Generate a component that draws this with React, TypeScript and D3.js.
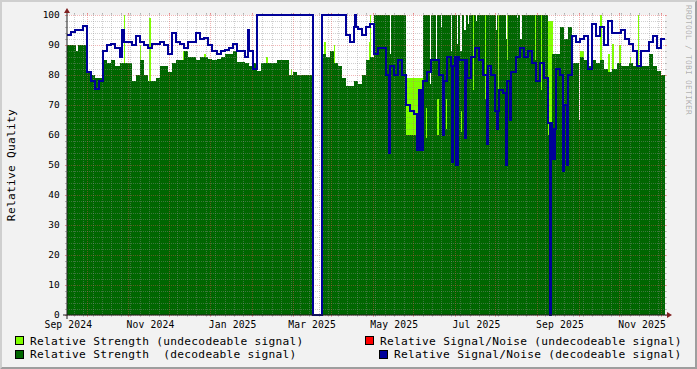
import React from "react";
import * as d3 from "d3";

const WIDTH = 697;
const HEIGHT = 369;
const X0 = 67;
const X1 = 665;
const YB = 315;
const YT = 15;

const seriesStart = new Date(Date.UTC(2024, 7, 31));
const seriesEnd = new Date(Date.UTC(2025, 10, 18));
const STEP_DAYS = 3;

// Relative Strength (decodeable signal), one value per 3 days
const strengthDecodeable = [
  90, 90, 90, 90, 90, 81, 80, 79, 79, 85,
  84, 85, 83, 84, 84, 84, 78, 80, 85, 80,
  78, 78, 79, 83, 83, 81, 84, 85, 85, 88,
  86, 86, 85, 86, 86, 85.5, 85, 85.5, 86, 87,
  87, 88, 84.5, 84.5, 84, 83, 84, 81.5, 84, 84,
  84, 84, 85, 85, 85, 80, 81, 80, 80, 80,
  80, 0, 0, 87, 86, 88, 84, 83, 79, 76.5,
  76.5, 78, 77, 80, 85, 86, 100, 100, 100, 100,
  100, 100, 100, 100, 60, 60, 60, 60, 100, 100,
  100, 100, 100, 100, 100, 100, 100, 100, 100, 100,
  100, 100, 100, 100, 100, 100, 100, 100, 100, 100,
  100, 100, 100, 100, 100, 100, 100, 100, 100, 60,
  87, 87, 96, 92, 96, 84, 84, 86, 85, 83,
  85, 84, 85, 82, 81, 82, 84, 83, 83, 84,
  83, 83, 83, 83, 87, 83, 81.5, 80,
];

// single-day dips of the decodeable strength: [day, value]
const strengthNotches: [number, number][] = [
  [7, 88], [239.5, 87], [269.5, 77], [274, 85.5], [277.5, 96], [285, 88],
  [289.5, 90.5], [292, 88], [295, 95], [297.5, 97], [303.5, 98], [310, 94],
  [318.5, 95], [326, 92], [334, 99], [336.5, 92], [380, 65],
];

// Relative Strength (undecodeable signal): [day, days, value]
const strengthUndecodeable: [number, number, number][] = [
  [42, 1, 100], [54, 1, 90], [61, 1, 99], [86, 1, 88], [102, 1, 87],
  [137, 1, 88], [148, 1, 86], [166, 1, 82], [191, 1, 91], [198, 1, 90],
  [224, 1, 91], [225, 1, 100], [252, 12, 79], [357, 4, 98], [381, 3, 88],
  [396, 1, 100], [402, 1, 87], [405, 1, 90.5], [410, 1, 90], [418, 1, 86],
  [424, 1, 100],
];

// short undecodeable excursions inside the decodeable area: [day, low, high]
const strengthUndecodeableRanges: [number, number, number][] = [
  [266.5, 59, 69], [275, 60, 72], [281.5, 62, 72], [292.5, 61, 68],
  [301.5, 75, 100], [310, 72, 100], [320, 68, 100], [326.5, 85, 100],
  [347.5, 85, 100], [352, 75, 100],
];

// Relative Signal/Noise (decodeable signal), one value per 3 days
const snrDecodeable = [
  93.5, 94.5, 95, 95, 96.5, 81, 78, 75.5, 78, 88,
  90, 90.5, 89, 86, 91, 91, 90, 93, 91, 90,
  89, 90.5, 90.5, 91, 90, 87, 94, 91, 90.5, 89,
  91, 91, 94, 92, 92.5, 90, 88, 87, 88, 88.5,
  89, 90.5, 88, 88, 86, 88, 82, 100, 100, 100,
  100, 100, 100, 100, 100, 100, 100, 100, 100, 100,
  100, 0, 0, 100, 100, 100, 100, 100, 100, 93.5,
  91, 96, 95.5, 93.5, 96, 97, 87, 89, 89, 80,
  83, 80, 85, 80, 70, 68, 67, 75, 78, 81,
  85, 85, 80, 78, 86, 83, 86, 85, 85, 79,
  86, 89, 85, 80, 83, 80, 68, 75, 74, 78,
  81, 86, 89, 86, 88, 84, 78, 84, 79, 64,
  62, 82, 80, 70, 80, 93, 91, 92, 93, 82,
  97, 93, 96, 90, 98, 94, 94, 95, 92, 90.5,
  88, 83, 88, 88, 91, 93, 89, 92,
];

// single-day excursions of the decodeable SNR: [day, value]
const snrSpikes: [number, number][] = [
  [41, 95], [134.5, 95], [213.8, 100], [239, 54], [260, 55], [263, 55],
  [279, 60], [285.5, 51], [289, 50], [295.5, 59], [311.5, 57], [319, 62],
  [326, 50], [329, 65], [358.5, 0], [361, 52], [368, 48], [371, 50],
];

// Relative Signal/Noise (undecodeable signal): no visible values
const snrUndecodeable: number[] = [];

const yLabels = [0, 10, 20, 30, 40, 50, 60, 70, 80, 90, 100];
const xLabels: [string, string][] = [
  ["2024-09-01", "Sep 2024"], ["2024-11-01", "Nov 2024"], ["2025-01-01", "Jan 2025"],
  ["2025-03-01", "Mar 2025"], ["2025-05-01", "May 2025"], ["2025-07-01", "Jul 2025"],
  ["2025-09-01", "Sep 2025"], ["2025-11-01", "Nov 2025"],
];

const legendItems = [
  { label: "Relative Strength (undecodeable signal)", color: "#80FF00" },
  { label: "Relative Signal/Noise (undecodeable signal)", color: "#FF0000" },
  { label: "Relative Strength  (decodeable signal)", color: "#006600" },
  { label: "Relative Signal/Noise (decodeable signal)", color: "#000099" },
];

const COL = {
  back: "#F2F2F2",
  canvas: "#FFFFFF",
  shadeA: "#CFCFCF",
  shadeB: "#9E9E9E",
  grid: "rgba(143,143,143,0.42)",
  mgrid: "rgba(222,79,79,0.42)",
  axis: "#1F1F1F",
  arrow: "#801F1F",
  font: "#000000",
};

type Pt = { t: number; v: number };

function buildSteps(base: number[], spikes: [number, number][]): Pt[] {
  const bounds = new Set<number>();
  base.forEach((_, i) => bounds.add(i * STEP_DAYS));
  const end = base.length * STEP_DAYS;
  bounds.add(end);
  spikes.forEach(([d]) => {
    bounds.add(d);
    bounds.add(Math.min(end, d + 1));
  });
  const ts = Array.from(bounds).sort((a, b) => a - b);
  const pts: Pt[] = [];
  for (let k = 0; k < ts.length - 1; k++) {
    const mid = (ts[k] + ts[k + 1]) / 2;
    const sp = spikes.find(([d]) => mid >= d && mid < d + 1);
    const v = sp ? sp[1] : base[Math.min(base.length - 1, Math.floor(mid / STEP_DAYS))];
    pts.push({ t: ts[k], v });
  }
  pts.push({ t: ts[ts.length - 1], v: pts[pts.length - 1].v });
  return pts;
}

const MONO = "'DejaVu Sans Mono', monospace";

export default function App() {
  const x = d3.scaleUtc().domain([seriesStart, seriesEnd]).range([X0, X1]);
  const y = d3.scaleLinear().domain([0, 100]).range([YB, YT]);
  const xd = (t: number) => x(new Date(seriesStart.getTime() + t * 864e5));

  const greenPts = buildSteps(strengthDecodeable, strengthNotches);
  const bluePts = buildSteps(snrDecodeable, snrSpikes);

  const area = d3
    .area<Pt>()
    .x((d) => xd(d.t))
    .y0(YB)
    .y1((d) => y(d.v))
    .curve(d3.curveStepAfter);
  const line = d3
    .line<Pt>()
    .x((d) => xd(d.t))
    .y((d) => y(d.v))
    .curve(d3.curveStepAfter);

  // grids
  const hValues = d3.range(0, 101, 2);
  const majors = d3
    .utcMonth.range(d3.utcMonth.floor(seriesStart), seriesEnd)
    .map((m) => d3.utcDay.offset(m, 14))
    .filter((d) => d >= seriesStart && d <= seriesEnd);
  const majorPx = new Set(majors.map((d) => Math.round(x(d))));
  const minors = d3.utcThursday
    .range(seriesStart, seriesEnd)
    .filter((d) => {
      const p = Math.round(x(d));
      return !majorPx.has(p) && !majorPx.has(p - 1) && !majorPx.has(p + 1);
    });

  const px = (v: number) => Math.round(v) + 0.5;

  return (
    <svg
      width={WIDTH}
      height={HEIGHT}
      viewBox={`0 0 ${WIDTH} ${HEIGHT}`}
      style={{ position: "absolute", left: 0, top: 0, display: "block" }}
      fontFamily={MONO}
    >
      <rect x={0} y={0} width={WIDTH} height={HEIGHT} fill={COL.back} />
      <polygon
        points={`0,0 ${WIDTH},0 ${WIDTH - 2},2 2,2 2,${HEIGHT - 2} 0,${HEIGHT}`}
        fill={COL.shadeA}
      />
      <polygon
        points={`${WIDTH},0 ${WIDTH},${HEIGHT} 0,${HEIGHT} 2,${HEIGHT - 2} ${WIDTH - 2},${HEIGHT - 2} ${WIDTH - 2},2`}
        fill={COL.shadeB}
      />
      <rect x={X0} y={YT} width={X1 - X0} height={YB - YT} fill={COL.canvas} />

      {/* undecodeable strength (behind) */}
      <g shapeRendering="crispEdges">
        {strengthUndecodeable.map(([d, span, v], i) => (
          <rect
            key={`lb${i}`}
            x={xd(d)}
            y={y(v)}
            width={Math.max(1, xd(d + span) - xd(d))}
            height={YB - y(v)}
            fill="#80FF00"
          />
        ))}
        <path d={area(greenPts) || ""} fill="#006600" />
        {strengthUndecodeableRanges.map(([d, lo, hi], i) => (
          <rect
            key={`ls${i}`}
            x={xd(d)}
            y={y(hi)}
            width={Math.max(1, xd(d + 1) - xd(d))}
            height={y(lo) - y(hi)}
            fill="#80FF00"
          />
        ))}
      </g>

      {/* grid */}
      <g strokeWidth={1} shapeRendering="crispEdges">
        {hValues.map((v) => {
          const yy = px(y(v));
          const c = v % 10 === 0 ? COL.mgrid : COL.grid;
          return (
            <g key={`h${v}`} stroke={c}>
              <line x1={X0 - 2} x2={X1 + 2} y1={yy} y2={yy} strokeDasharray="1,1" />
              <line x1={X0 - 2} x2={X0} y1={yy} y2={yy} />
              <line x1={X1} x2={X1 + 2} y1={yy} y2={yy} />
            </g>
          );
        })}
        {minors.map((d, i) => {
          const xx = px(x(d));
          return (
            <g key={`vm${i}`} stroke={COL.grid}>
              <line x1={xx} x2={xx} y1={YT - 2} y2={YB + 2} strokeDasharray="1,1" />
              <line x1={xx} x2={xx} y1={YB} y2={YB + 2} />
              <line x1={xx} x2={xx} y1={YT - 2} y2={YT} />
            </g>
          );
        })}
        {majors.map((d, i) => {
          const xx = px(x(d));
          return (
            <g key={`vM${i}`} stroke={COL.mgrid}>
              <line x1={xx} x2={xx} y1={YT - 2} y2={YB + 2} strokeDasharray="1,1" />
              <line x1={xx} x2={xx} y1={YB} y2={YB + 2} />
              <line x1={xx} x2={xx} y1={YT - 2} y2={YT} />
            </g>
          );
        })}
      </g>

      {/* SNR lines */}
      {snrUndecodeable.length > 0 && (
        <path
          d={line(snrUndecodeable.map((v, i) => ({ t: i * STEP_DAYS, v }))) || ""}
          fill="none"
          stroke="#FF0000"
          strokeWidth={2}
        />
      )}
      <path
        d={line(bluePts) || ""}
        fill="none"
        stroke="#000099"
        strokeWidth={2}
        strokeLinejoin="miter"
        shapeRendering="crispEdges"
      />

      {/* axes */}
      <line x1={X0 - 4} x2={X1 + 4} y1={YB} y2={YB} stroke={COL.axis} strokeWidth={1} />
      <line x1={X0} x2={X0} y1={YB + 4} y2={YT - 4} stroke={COL.axis} strokeWidth={1} />
      <polygon
        points={`${X1 + 2},${YB - 3} ${X1 + 2},${YB + 3} ${X1 + 7},${YB}`}
        fill={COL.arrow}
      />
      <polygon
        points={`${X0 - 3},${YT - 2} ${X0 + 3},${YT - 2} ${X0},${YT - 7}`}
        fill={COL.arrow}
      />

      {/* y labels */}
      {yLabels.map((v) => (
        <text
          key={`yl${v}`}
          x={59.8}
          y={y(v) + 3.4}
          textAnchor="end"
          fontSize={9.5}
          fill={COL.font}
        >
          {v}
        </text>
      ))}
      {/* x labels */}
      {xLabels.map(([iso, txt]) => (
        <text
          key={iso}
          x={x(new Date(iso + "T00:00:00Z"))}
          y={328.3}
          textAnchor="middle"
          fontSize={9.7}
          letterSpacing={0.15}
          fill={COL.font}
        >
          {txt}
        </text>
      ))}

      {/* axis title */}
      <text
        transform={`translate(15,165) rotate(-90)`}
        textAnchor="middle"
        fontSize={11.2}
        letterSpacing={0.28}
        fill={COL.font}
      >
        Relative Quality
      </text>

      {/* watermark */}
      <text
        transform={`translate(685.5,5) rotate(90)`}
        fontSize={7.9}
        letterSpacing={0.25}
        fill="#000"
        fillOpacity={0.3}
      >
        RRDTOOL / TOBI OETIKER
      </text>

      {/* legend */}
      {[
        { item: legendItems[0], bx: 15, tx: 30, row: 0 },
        { item: legendItems[1], bx: 365, tx: 380, row: 0 },
        { item: legendItems[2], bx: 15, tx: 30, row: 1 },
        { item: legendItems[3], bx: 379, tx: 394, row: 1 },
      ].map(({ item, bx, tx, row }) => (
        <g key={item.label}>
          <rect
            x={bx + 0.5}
            y={336.5 + row * 13.5}
            width={8}
            height={8}
            fill={item.color}
            stroke="#000"
            strokeWidth={1}
            shapeRendering="crispEdges"
          />
          <text
            x={tx}
            y={344.5 + row * 13.5}
            fontSize={11.2}
            letterSpacing={0.28}
            fill={COL.font}
            style={{ whiteSpace: "pre" }}
          >
            {item.label}
          </text>
        </g>
      ))}
    </svg>
  );
}
